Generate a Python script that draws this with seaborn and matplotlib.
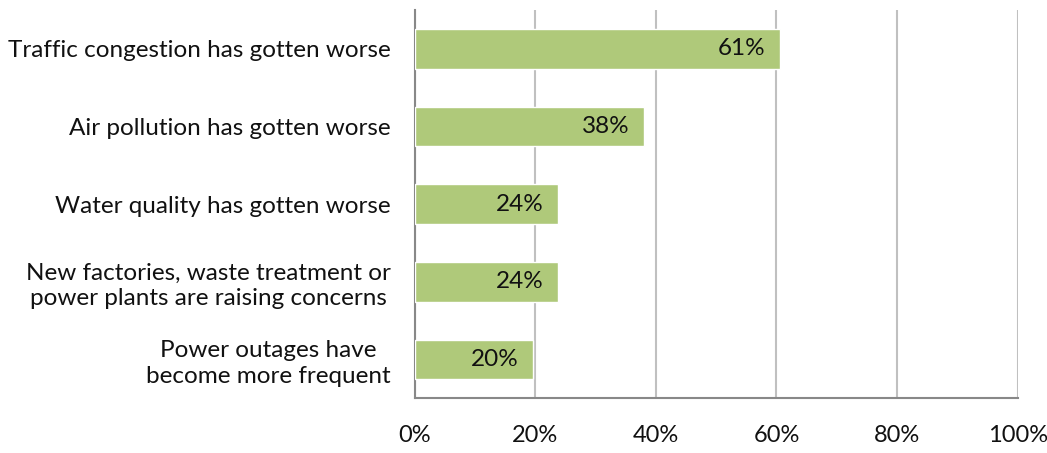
import matplotlib
matplotlib.use("Agg")
import matplotlib.pyplot as plt
import seaborn as sns
import pandas as pd
import numpy as np

# Chart data
categories = [
    "Traffic congestion has gotten worse",
    "Air pollution has gotten worse",
    "Water quality has gotten worse",
    "New factories, waste treatment or\npower plants are raising concerns",
    "Power outages have\nbecome more frequent",
]
values = [60.6, 38.1, 23.8, 23.8, 19.6]
value_labels = ["61%", "38%", "24%", "24%", "20%"]
x_ticks = [0, 20, 40, 60, 80, 100]
x_tick_labels = ["0%", "20%", "40%", "60%", "80%", "100%"]

df = pd.DataFrame({"category": categories, "value": values})

sns.set_style("white")
plt.rcParams["font.family"] = ["Lato", "DejaVu Sans"]

fig = plt.figure(figsize=(10.47, 4.53), dpi=100)
ax = fig.add_axes([0.396, 0.121, 0.576, 0.857])

sns.barplot(data=df, x="value", y="category", color="#AFC97A",
            saturation=1, width=0.51, ax=ax, zorder=3)

# value labels inside the bars
for i, (v, lab) in enumerate(zip(values, value_labels)):
    ax.text(v - 2.4, i, lab, ha="right", va="center", fontsize=17.5,
            color="#111111", zorder=4)

ax.set_xlim(0, 100)
ax.set_ylim(4.5, -0.5)
ax.set_xticks(x_ticks)
ax.set_xticklabels(x_tick_labels, fontsize=17)
ax.set_xlabel("")
ax.set_ylabel("")

ax.set_yticks(range(len(categories)))
ax.set_yticklabels(categories, fontsize=17.5, multialignment="center",
                   linespacing=1.25)
ax.set_yticks(np.arange(-0.5, len(categories), 1), minor=True)
ax.tick_params(axis="y", which="major", length=0, pad=17, labelcolor="#111111")
ax.tick_params(axis="y", which="minor", length=7, width=1.5,
               color="#888888", direction="out")
ax.tick_params(axis="x", length=7, width=1.5, color="#888888",
               direction="out", pad=12, labelcolor="#111111")

ax.grid(axis="x", color="#C0C0C0", linewidth=1.5, zorder=0)
ax.grid(axis="y", visible=False)

for side in ["top", "right"]:
    ax.spines[side].set_visible(False)
for side in ["left", "bottom"]:
    ax.spines[side].set_color("#888888")
    ax.spines[side].set_linewidth(1.5)

fig.savefig("out.png", dpi=100)
